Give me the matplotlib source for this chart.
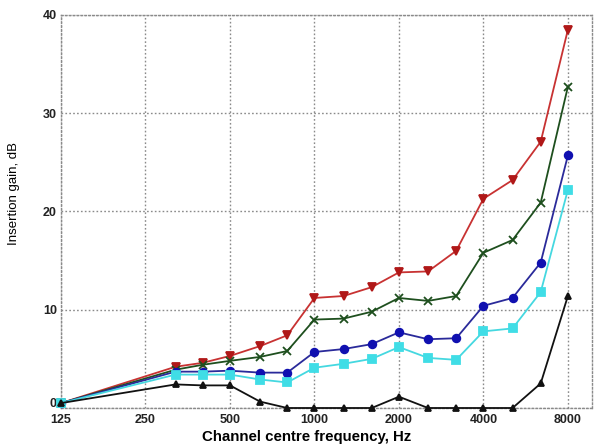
import matplotlib
matplotlib.use("Agg")
import matplotlib.pyplot as plt
from matplotlib.ticker import FixedLocator, FixedFormatter, NullLocator
from matplotlib.transforms import ScaledTranslation

# Channel centre frequencies (Hz)
freqs = [125, 320, 400, 500, 640, 800, 1000, 1270, 1600, 2000, 2540, 3200, 4000, 5080, 6400, 8000]

# Insertion gain (dB) per condition
gain_red = [0.5, 4.2, 4.6, 5.3, 6.3, 7.4, 11.2, 11.4, 12.3, 13.8, 13.9, 16.0, 21.3, 23.2, 27.1, 38.5]
gain_green = [0.5, 3.9, 4.4, 4.8, 5.2, 5.8, 9.0, 9.1, 9.8, 11.2, 10.9, 11.4, 15.8, 17.1, 20.9, 32.7]
gain_blue = [0.5, 3.7, 3.7, 3.8, 3.6, 3.6, 5.7, 6.0, 6.5, 7.7, 7.0, 7.1, 10.4, 11.2, 14.8, 25.7]
gain_cyan = [0.5, 3.4, 3.4, 3.4, 2.9, 2.6, 4.1, 4.5, 5.0, 6.2, 5.1, 4.9, 7.8, 8.1, 11.8, 22.2]
gain_black = [0.5, 2.4, 2.3, 2.3, 0.65, 0.0, 0.0, 0.0, 0.0, 1.15, 0.0, 0.0, 0.0, 0.0, 2.5, 11.4]

xtick_vals = [125, 250, 500, 1000, 2000, 4000, 8000]
xtick_labels = ["125", "250", "500", "1000", "2000", "4000", "8000"]
ytick_vals = [0, 10, 20, 30, 40]

plt.rcParams["font.family"] = ["Liberation Sans", "DejaVu Sans"]

fig = plt.figure(figsize=(5.96, 4.45), dpi=100)
ax = fig.add_axes([61 / 596, 1 - 408 / 445, (592 - 61) / 596, (408 - 15) / 445])

series = [
    (gain_red, "#c83232", "#b01818", "v", 6),
    (gain_green, "#1e4f1e", "#1e4f1e", "x", 6),
    (gain_blue, "#2a2a9a", "#1010b0", "o", 5.5),
    (gain_cyan, "#45d8e0", "#40dde6", "s", 5.5),
    (gain_black, "#111111", "#111111", "^", 5),
]
for vals, lc, mc, mk, ms in series:
    ax.plot(freqs, vals, color=lc, lw=1.3, marker=mk, markersize=ms,
            markerfacecolor=mc, markeredgecolor=mc, markeredgewidth=1.3,
            clip_on=False, zorder=3)

ax.set_xscale("log", base=2)
ax.set_xlim(125, 9750)
ax.set_ylim(0, 40)

ax.xaxis.set_major_locator(FixedLocator(xtick_vals))
ax.xaxis.set_major_formatter(FixedFormatter(xtick_labels))
ax.xaxis.set_minor_locator(NullLocator())
ax.set_yticks(ytick_vals)
ax.set_yticklabels([str(v) for v in ytick_vals])

ax.grid(True, which="major", linestyle=(0, (1.2, 1.6)), color="#8a8a8a", lw=1.0)
for s in ax.spines.values():
    s.set_linestyle((0, (1.2, 1.6)))
    s.set_color("#8a8a8a")
    s.set_linewidth(1.0)

ax.tick_params(axis="x", length=0, pad=4, labelsize=9, colors="#222222")
ax.tick_params(axis="y", length=0, pad=3, labelsize=9, colors="#222222")
for lab in ax.get_xticklabels() + ax.get_yticklabels():
    lab.set_fontweight("bold")

# lift the "0" label a little so it sits clear of the "125" label
zero_lab = ax.get_yticklabels()[0]
zero_lab.set_transform(zero_lab.get_transform() + ScaledTranslation(0, 4 / 72, fig.dpi_scale_trans))

ax.set_ylabel("Insertion gain, dB", fontsize=9.5)
ax.yaxis.set_label_coords(-0.078, 0.545)
ax.set_xlabel("Channel centre frequency, Hz", fontsize=10.8, fontweight="bold")
ax.xaxis.set_label_coords(0.463, -0.055)

fig.savefig("out.png", dpi=100, facecolor="white")
